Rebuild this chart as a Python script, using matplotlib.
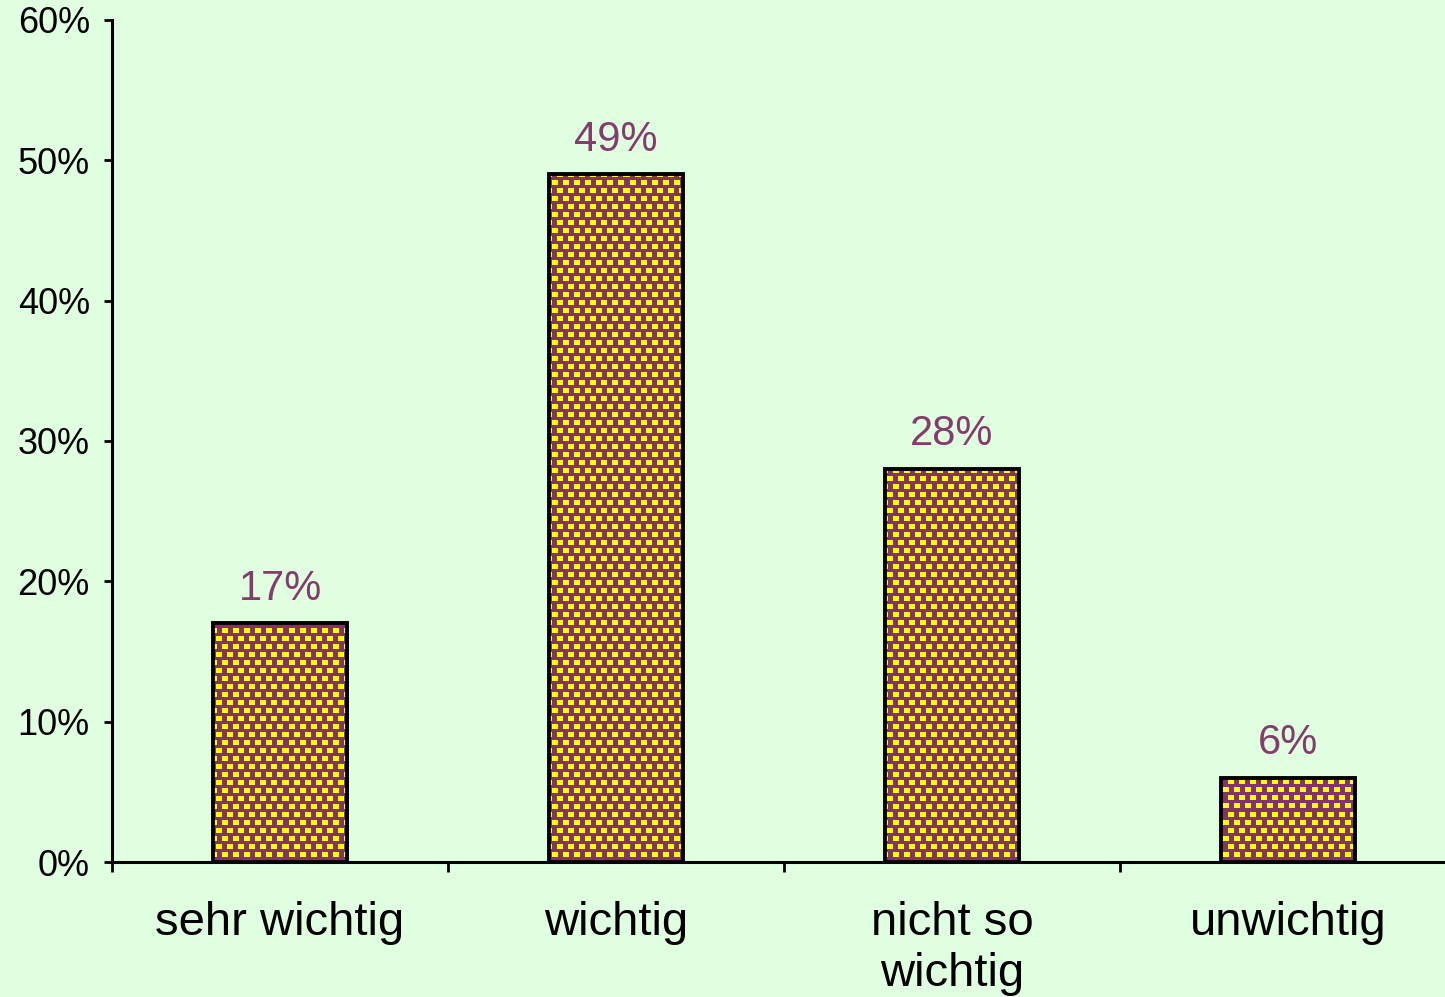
import numpy as np
import matplotlib
matplotlib.use("Agg")
from matplotlib import pyplot as plt
from matplotlib.ticker import FuncFormatter

categories = ["sehr wichtig", "wichtig", "nicht so\nwichtig", "unwichtig"]
values = [0.17, 0.49, 0.28, 0.06]
value_labels = ["17%", "49%", "28%", "6%"]

bg = "#E0FFE0"
purple = "#843366"
yellow = "#FFFF00"
label_color = "#843C6C"

plt.rcParams["font.family"] = ["Liberation Sans", "DejaVu Sans"]

W, H = 1445, 997
fig = plt.figure(figsize=(W / 100, H / 100), dpi=100, facecolor=bg)
ax_l, ax_r, ax_t, ax_b = 112, 1445, 20, 862
ax = fig.add_axes([ax_l / W, 1 - ax_b / H, (ax_r - ax_l) / W, (ax_b - ax_t) / H])
ax.set_facecolor(bg)

xlim = (-0.5, 3.467)
ylim = (0, 0.6)

x = np.arange(len(categories))
bars = ax.bar(x, values, width=0.4, color=purple, edgecolor="none", zorder=2)

# yellow/purple weave texture, clipped to each bar
tw, th = ax_r - ax_l, ax_b - ax_t
yy, xx = np.mgrid[0:th, 0:tw]
shift = ((yy // 8) % 2) * 6
mask = (((xx + shift) % 11) < 6) & ((yy % 8) < 5)
tex = np.zeros((th, tw, 3))
tex[...] = matplotlib.colors.to_rgb(purple)
tex[mask] = matplotlib.colors.to_rgb(yellow)
for b in bars:
    im = ax.imshow(tex, extent=(*xlim, *ylim), origin="upper",
                   interpolation="nearest", aspect="auto", zorder=2)
    im.set_clip_path(b)

ax.bar(x, values, width=0.4, fill=False, edgecolor="black", linewidth=2.8, zorder=3)

for xi, v, lab in zip(x, values, value_labels):
    ax.annotate(lab, (xi, v), xytext=(0, 17), textcoords="offset points",
                ha="center", va="baseline", fontsize=30, color=label_color)

ax.set_xlim(*xlim)
ax.set_ylim(*ylim)

ax.set_xticks(x)
ax.set_xticklabels(categories, fontsize=34, linespacing=1.2)
ax.set_xticks(np.arange(-0.5, 3.0, 1.0), minor=True)
ax.tick_params(axis="x", which="major", length=0, pad=28)
ax.tick_params(axis="x", which="minor", length=7, width=2, direction="out")

ax.set_yticks(np.arange(0, 0.61, 0.1))
ax.yaxis.set_major_formatter(FuncFormatter(lambda v, p: f"{v * 100:.0f}%"))
ax.tick_params(axis="y", length=6, width=2, direction="out", labelsize=26, pad=10)

for s in ["top", "right"]:
    ax.spines[s].set_visible(False)
for s in ["left", "bottom"]:
    ax.spines[s].set_linewidth(2.2)
    ax.spines[s].set_zorder(4)

fig.savefig("out.png", dpi=100, facecolor=bg)
